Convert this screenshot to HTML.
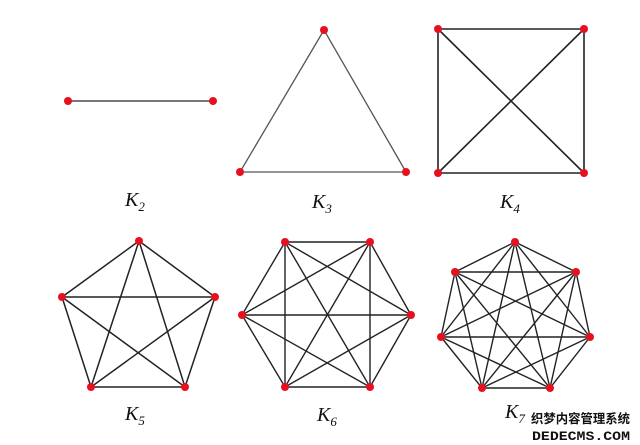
<!DOCTYPE html>
<html><head><meta charset="utf-8"><style>
html,body{margin:0;padding:0;background:#fff;width:640px;height:445px;overflow:hidden}
svg{display:block}
.l{font-family:"Liberation Serif",serif;font-style:italic;font-size:20px;fill:#111}
.s{font-family:"Liberation Serif",serif;font-size:13px;fill:#111}
</style></head><body>
<svg width="640" height="445" viewBox="0 0 640 445" xmlns="http://www.w3.org/2000/svg">
<g stroke="#222" stroke-width="1.3" fill="none">
<path d="M68,101L213,101" stroke="#777" stroke-width="2"/>
<path d="M324,30L240,172L406,172Z" stroke="#555"/>
<path d="M438,29L584,29L584,173L438,173Z M438,29L584,173 M584,29L438,173" stroke-width="1.6"/>
<path d="M139,241L62,297 M139,241L215,297 M139,241L91,387 M139,241L185,387 M62,297L215,297 M62,297L91,387 M62,297L185,387 M215,297L91,387 M215,297L185,387 M91,387L185,387" stroke-width="1.5"/>
<path d="M285,242L370,242 M285,242L242,315 M285,242L411,315 M285,242L285,387 M285,242L370,387 M370,242L242,315 M370,242L411,315 M370,242L285,387 M370,242L370,387 M242,315L411,315 M242,315L285,387 M242,315L370,387 M411,315L285,387 M411,315L370,387 M285,387L370,387" stroke-width="1.4"/>
<path d="M515,242L455,272 M515,242L576,272 M515,242L441,337 M515,242L590,337 M515,242L482,388 M515,242L550,388 M455,272L576,272 M455,272L441,337 M455,272L590,337 M455,272L482,388 M455,272L550,388 M576,272L441,337 M576,272L590,337 M576,272L482,388 M576,272L550,388 M441,337L590,337 M441,337L482,388 M441,337L550,388 M590,337L482,388 M590,337L550,388 M482,388L550,388" stroke-width="1.4"/>
</g>
<g fill="#e8101e">
<circle cx="68" cy="101" r="4"/><circle cx="213" cy="101" r="4"/>
<circle cx="324" cy="30" r="4"/><circle cx="240" cy="172" r="4"/><circle cx="406" cy="172" r="4"/>
<circle cx="438" cy="29" r="4"/><circle cx="584" cy="29" r="4"/><circle cx="438" cy="173" r="4"/><circle cx="584" cy="173" r="4"/>
<circle cx="139" cy="241" r="4"/><circle cx="62" cy="297" r="4"/><circle cx="215" cy="297" r="4"/><circle cx="91" cy="387" r="4"/><circle cx="185" cy="387" r="4"/>
<circle cx="285" cy="242" r="4"/><circle cx="370" cy="242" r="4"/><circle cx="242" cy="315" r="4"/><circle cx="411" cy="315" r="4"/><circle cx="285" cy="387" r="4"/><circle cx="370" cy="387" r="4"/>
<circle cx="515" cy="242" r="4"/><circle cx="455" cy="272" r="4"/><circle cx="576" cy="272" r="4"/><circle cx="441" cy="337" r="4"/><circle cx="590" cy="337" r="4"/><circle cx="482" cy="388" r="4"/><circle cx="550" cy="388" r="4"/>
</g>
<text class="l" x="125" y="206">K<tspan class="s" dy="5">2</tspan></text>
<text class="l" x="312" y="208">K<tspan class="s" dy="5">3</tspan></text>
<text class="l" x="500" y="208">K<tspan class="s" dy="5">4</tspan></text>
<text class="l" x="125" y="420">K<tspan class="s" dy="5">5</tspan></text>
<text class="l" x="317" y="421">K<tspan class="s" dy="5">6</tspan></text>
<text class="l" x="505" y="418">K<tspan class="s" dy="5">7</tspan></text>
<g font-family="'Liberation Sans','Noto Sans CJK SC',sans-serif" font-weight="bold" fill="#111" stroke="#fff" stroke-width="2.5" paint-order="stroke">
<text x="531" y="423" font-size="12.5" textLength="99" lengthAdjust="spacingAndGlyphs">织梦内容管理系统</text>
<text x="532" y="440" font-size="13" textLength="98" lengthAdjust="spacingAndGlyphs" font-family="'Liberation Mono',monospace">DEDECMS.COM</text>
</g>
</svg>
</body></html>
